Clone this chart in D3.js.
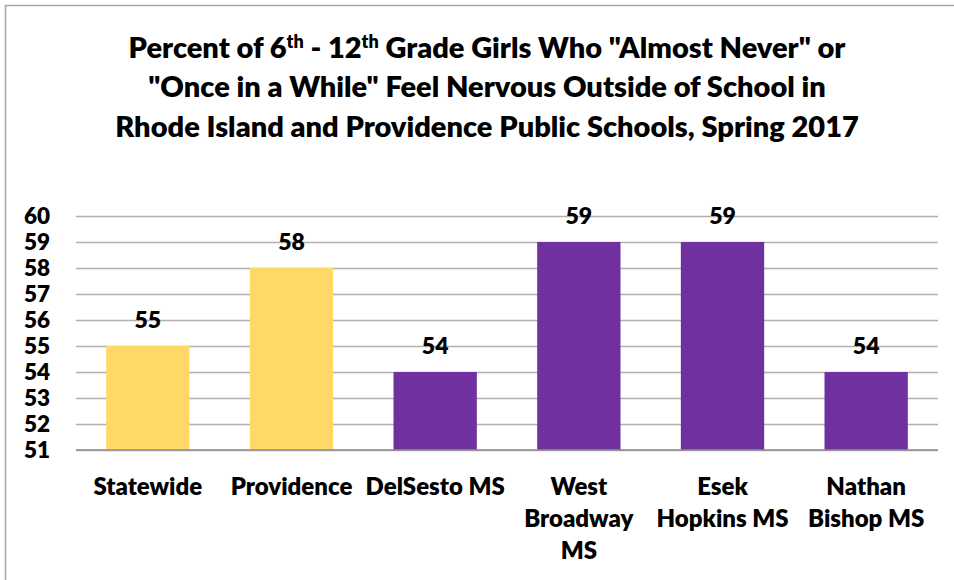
<!DOCTYPE html>
<html>
<head>
<meta charset="utf-8">
<script src="https://cdn.jsdelivr.net/npm/d3@7"></script>
<style>
  body { margin: 0; background: #fff; }
  svg { display: block; font-family: Lato, "Open Sans", sans-serif; font-weight: 800; }
</style>
</head>
<body>
<div id="chart"></div>
<script>
// values
const categories = ["Statewide", "Providence", "DelSesto MS", "West Broadway MS", "Esek Hopkins MS", "Nathan Bishop MS"];
const labelLines = [["Statewide"], ["Providence"], ["DelSesto MS"], ["West", "Broadway", "MS"], ["Esek", "Hopkins MS"], ["Nathan", "Bishop MS"]];
const values = [55, 58, 54, 59, 59, 54];
const groups = ["state", "state", "school", "school", "school", "school"];
const yTicks = [51, 52, 53, 54, 55, 56, 57, 58, 59, 60];

const width = 954, height = 580;
const margin = {top: 216, right: 16, bottom: 130, left: 76};
const colors = {state: "#FFD966", school: "#7030A0"};

let svg = d3.select("#chart").append("svg")
    .attr("width", width)
    .attr("height", height);

// chart frame
svg.append("rect")
    .attr("x", 5.5).attr("y", 5.5)
    .attr("width", width + 10).attr("height", height + 10)
    .attr("fill", "none")
    .attr("stroke", "#a6a6a6")
    .attr("stroke-width", 1.5);

// title
let title = svg.append("text")
    .attr("text-anchor", "middle")
    .attr("font-size", 29)
    .attr("fill", "#000");

let l1 = title.append("tspan").attr("x", 487).attr("y", 58);
l1.append("tspan").text("Percent of 6");
l1.append("tspan").attr("font-size", 18).attr("dy", -10).text("th");
l1.append("tspan").attr("dy", 10).text(" - 12");
l1.append("tspan").attr("font-size", 18).attr("dy", -10).text("th");
l1.append("tspan").attr("dy", 10).text(" Grade Girls Who \"Almost Never\" or");
title.append("tspan").attr("x", 487).attr("y", 97).text("\"Once in a While\" Feel Nervous Outside of School in");
title.append("tspan").attr("x", 487).attr("y", 137).text("Rhode Island and Providence Public Schools, Spring 2017");

let x = d3.scaleBand()
    .domain(categories)
    .range([margin.left, width - margin.right])
    .paddingInner(0.42)
    .paddingOuter(0.21);

let y = d3.scaleLinear()
    .domain([51, 60])
    .range([height - margin.bottom, margin.top]);

// gridlines + tick labels
svg.append("g")
    .attr("transform", `translate(${margin.left},0)`)
    .call(d3.axisLeft(y).tickValues(yTicks).tickSize(-(width - margin.left - margin.right)).tickPadding(26).tickFormat(d3.format("d")))
    .call(g => g.select(".domain").remove())
    .call(g => g.selectAll(".tick line").attr("stroke", "#b0b0b0").attr("stroke-width", 1.3))
    .call(g => g.selectAll(".tick text")
        .attr("font-size", 22.5)
        .attr("font-family", "Lato, sans-serif")
        .attr("font-weight", 800)
        .attr("fill", "#000"));

// bars
svg.append("g")
    .selectAll("rect")
    .data(categories)
    .join("rect")
        .attr("x", d => x(d))
        .attr("y", (d, i) => y(values[i]))
        .attr("width", x.bandwidth())
        .attr("height", (d, i) => y(51) - y(values[i]))
        .attr("fill", (d, i) => colors[groups[i]]);

// bottom axis line
svg.append("line")
    .attr("x1", margin.left).attr("x2", width - margin.right)
    .attr("y1", y(51)).attr("y2", y(51))
    .attr("stroke", "#8c8c8c")
    .attr("stroke-width", 1.5);

// value labels
svg.append("g")
    .selectAll("text")
    .data(categories)
    .join("text")
        .attr("x", d => x(d) + x.bandwidth() / 2)
        .attr("y", (d, i) => y(values[i]) - 18)
        .attr("text-anchor", "middle")
        .attr("font-size", 23)
        .attr("fill", "#000")
        .text((d, i) => values[i]);

// category labels
svg.append("g")
    .selectAll("text")
    .data(categories)
    .join("text")
        .attr("text-anchor", "middle")
        .attr("font-size", 24)
        .attr("fill", "#000")
        .each(function(d, i) {
            let t = d3.select(this);
            labelLines[i].forEach((line, j) => {
                t.append("tspan")
                    .attr("x", x(d) + x.bandwidth() / 2)
                    .attr("y", y(51) + 45 + j * 32)
                    .text(line);
            });
        });
</script>
</body>
</html>
